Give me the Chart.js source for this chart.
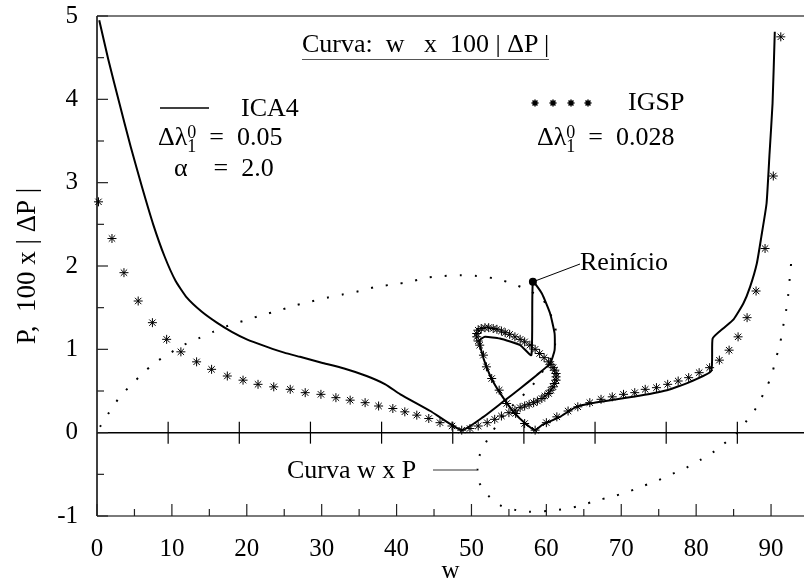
<!DOCTYPE html>
<html>
<head>
<meta charset="utf-8">
<script src="https://cdn.jsdelivr.net/npm/chart.js@4.4.1/dist/chart.umd.min.js"></script>
<style>
    html, body { margin: 0; padding: 0; background: #fff; }
    #wrap { position: relative; width: 804px; height: 581px; }
    #chart { position: absolute; left: 0; top: 0; }
    .lbl {
        position: absolute;
        font-family: 'Liberation Serif', 'Times New Roman', serif;
        font-size: 26px;
        line-height: 1;
        color: #000;
        white-space: pre;
    }
    .title { border-bottom: 1.5px solid #555; padding-bottom: 2px; }
    .ix { display: inline-block; vertical-align: middle; line-height: 0.8; font-size: 18px; text-align: left; }
    .ix span { display: block; }
</style>
</head>
<body>
<div id="wrap">
    <canvas id="chart" width="804" height="581"></canvas>
    <div class="lbl title" style="left:302px; top:31px;">Curva:  w   x  100 | ΔP |</div>
    <div class="lbl" style="left:241px; top:95px;">ICA4</div>
    <div class="lbl" style="left:158px; top:124px;">Δλ<span class="ix"><span>0</span><span>1</span></span>  =  0.05</div>
    <div class="lbl" style="left:174px; top:155px;">α    =  2.0</div>
    <div class="lbl" style="left:628px; top:89px;">IGSP</div>
    <div class="lbl" style="left:537px; top:124px;">Δλ<span class="ix"><span>0</span><span>1</span></span>  =  0.028</div>
    <div class="lbl" style="left:580px; top:249px;">Reinício</div>
    <div class="lbl" style="left:287px; top:457px;">Curva w x P</div>
</div>
<script>
// ICA4 (solid line), read along the path in drawing order
const ica4W = [0.3, 1.5, 3.0, 4.5, 6.0, 7.5, 9.0, 10.5, 12.0, 14.0, 16.0, 18.0, 20.0, 22.7, 25.0, 27.1, 30.0, 33.0, 36.0, 38.5, 40.5, 44.5, 48.7,
    51.6, 54.2, 56.5, 58.7, 60.5, 61.1, 61.1, 60.5, 59.4, 58.2,
    58.0, 56.5, 53.8, 51.8, 51.1, 51.3, 52.0, 52.9, 54.0, 55.6, 57.2, 58.5,
    59.4, 61.8, 64.0, 67.2, 71.6, 76.1, 79.2, 82.0, 82.2, 83.6, 85.0, 86.3, 87.2, 88.1, 88.7, 89.4, 89.8, 90.2, 90.5];
const ica4P = [4.95, 4.48, 3.95, 3.43, 2.95, 2.50, 2.12, 1.82, 1.62, 1.45, 1.32, 1.21, 1.12, 1.03, 0.96, 0.91, 0.84, 0.77, 0.68, 0.58, 0.46, 0.26, 0.03,
    0.19, 0.37, 0.53, 0.69, 0.83, 0.99, 1.19, 1.43, 1.67, 1.81,
    0.93, 1.05, 1.13, 1.15, 1.11, 0.99, 0.79, 0.61, 0.45, 0.25, 0.11, 0.03,
    0.09, 0.19, 0.31, 0.37, 0.43, 0.51, 0.61, 0.74, 1.13, 1.25, 1.36, 1.55, 1.75, 2.03, 2.35, 2.75, 3.35, 3.95, 4.81];

// IGSP (asterisks)
const igspW = [0.2, 2.0, 3.6, 5.5, 7.4, 9.3, 11.2, 13.3, 15.3, 17.4, 19.5, 21.5, 23.6, 25.8, 27.8, 29.9, 31.9, 33.8, 35.8, 37.6, 39.5,
    41.1, 42.7, 44.3, 45.8, 47.4, 48.7, 49.8, 50.9, 52.1, 53.1, 54.0, 55.0, 55.8, 56.5, 57.1, 57.7, 58.3, 58.8, 59.4, 59.8, 60.3,
    60.6, 60.9, 61.1, 61.3, 61.3, 61.3, 61.1, 60.9, 60.6, 60.3, 59.7, 59.1, 58.5, 57.8, 57.1, 56.5, 55.8, 55.1, 54.5, 54.0, 53.4,
    52.9, 52.3, 51.8, 51.3, 50.9, 50.7, 50.7, 50.9, 51.1, 51.6, 52.0, 52.7, 53.7, 54.7, 55.9, 57.1, 58.5,
    60.0, 61.4, 62.9, 64.2, 65.8, 67.3, 68.8, 70.3, 71.8, 73.2, 74.7, 76.2, 77.6, 79.0, 80.4, 81.8, 83.1, 84.4, 85.6, 86.8, 88.0,
    89.2, 90.3, 91.3];
const igspP = [2.77, 2.33, 1.92, 1.58, 1.32, 1.12, 0.97, 0.85, 0.76, 0.68, 0.63, 0.58, 0.55, 0.52, 0.48, 0.46, 0.42, 0.39, 0.36, 0.32, 0.29,
    0.25, 0.21, 0.17, 0.12, 0.08, 0.03, 0.05, 0.08, 0.12, 0.16, 0.20, 0.24, 0.27, 0.30, 0.32, 0.34, 0.36, 0.38, 0.41, 0.44, 0.47,
    0.51, 0.55, 0.59, 0.63, 0.67, 0.71, 0.75, 0.78, 0.82, 0.85, 0.90, 0.95, 1.00, 1.05, 1.09, 1.12, 1.15, 1.18, 1.20, 1.22, 1.24,
    1.25, 1.26, 1.26, 1.25, 1.23, 1.19, 1.15, 1.10, 1.05, 0.93, 0.79, 0.65, 0.51, 0.35, 0.23, 0.11, 0.03,
    0.12, 0.19, 0.26, 0.31, 0.36, 0.40, 0.43, 0.46, 0.48, 0.52, 0.54, 0.58, 0.62, 0.66, 0.72, 0.78, 0.87, 0.99, 1.15, 1.38, 1.70,
    2.21, 3.08, 4.75];

// Curva w x P (dotted)
const curveW = [0.4, 1.6, 2.9, 4.4, 6.0, 7.6, 9.5, 11.5, 13.5, 15.5, 17.7, 19.9, 22.0, 24.1, 26.2, 28.4, 30.7, 32.9, 35.1, 37.3, 39.6,
    41.8, 44.0, 46.2, 48.5, 50.7, 53.1, 55.4, 57.3, 59.4, 60.5, 61.2, 61.2, 60.6, 59.4, 57.8, 56.2, 54.7, 53.3, 52.1, 51.1, 50.8,
    51.0, 52.2, 54.0, 56.0, 57.8, 60.0, 62.1, 64.4, 66.5, 68.6, 70.6, 72.6, 74.7, 76.7, 78.7, 80.7, 82.5, 83.6, 85.4, 86.8, 88.1,
    89.1, 90.0, 90.6, 91.2, 91.6, 92.0, 92.3, 92.5, 92.7];
const curveP = [0.07, 0.24, 0.41, 0.56, 0.70, 0.83, 0.94, 1.05, 1.13, 1.21, 1.29, 1.35, 1.41, 1.46, 1.52, 1.57, 1.62, 1.66, 1.70, 1.75, 1.78,
    1.81, 1.86, 1.88, 1.89, 1.88, 1.85, 1.79, 1.72, 1.61, 1.43, 1.26, 1.08, 0.90, 0.72, 0.53, 0.39, 0.25, 0.08, -0.09, -0.27, -0.43,
    -0.59, -0.75, -0.88, -0.93, -0.95, -0.94, -0.92, -0.88, -0.82, -0.77, -0.72, -0.65, -0.58, -0.50, -0.42, -0.32, -0.22, -0.14, -0.01, 0.15, 0.31,
    0.49, 0.67, 0.87, 1.07, 1.27, 1.46, 1.66, 1.86, 2.05];

const restartW = [58.2];
const restartP = [1.81];

const xTicks = [0, 10, 20, 30, 40, 50, 60, 70, 80, 90];
const yTicks = [-1, 0, 1, 2, 3, 4, 5];
const zeroLineTicks = [9.5, 19, 28.5, 38, 47.5, 57, 66.5, 76, 85.5];

const SERIF = "'Liberation Serif', 'Times New Roman', serif";

const pairs = (xs, ys) => xs.map((x, i) => ({ x, y: ys[i] }));

function segment(ctx, x1, y1, x2, y2) {
    ctx.beginPath();
    ctx.moveTo(x1, y1);
    ctx.lineTo(x2, y2);
    ctx.stroke();
}

// Axis frame: gray top/bottom borders, black left axis and zero line, inward ticks.
const framePlugin = {
    id: 'frame',
    beforeDatasetsDraw(chart) {
        const { ctx, chartArea: a, scales: { x, y } } = chart;
        const y0 = y.getPixelForValue(0);
        ctx.save();
        ctx.lineCap = 'butt';

        ctx.strokeStyle = '#7a7a7a';
        ctx.lineWidth = 2;
        segment(ctx, a.left, a.top, a.right, a.top);
        segment(ctx, a.left, a.bottom, a.right, a.bottom);

        ctx.strokeStyle = '#000';
        ctx.lineWidth = 1.5;
        segment(ctx, a.left, y0, a.right, y0);
        segment(ctx, a.left, a.top, a.left, a.bottom);

        ctx.lineWidth = 1.2;
        ctx.strokeStyle = '#222';
        yTicks.forEach((v) => {
            const py = y.getPixelForValue(v);
            segment(ctx, a.left, py, a.left + 11, py);
            if (v + 0.5 < y.max) {
                const ph = y.getPixelForValue(v + 0.5);
                segment(ctx, a.left, ph, a.left + 7, ph);
            }
        });
        xTicks.forEach((v) => {
            const px = x.getPixelForValue(v);
            segment(ctx, px, a.bottom, px, a.bottom - 12);
            if (v + 5 < x.max) {
                const ph = x.getPixelForValue(v + 5);
                segment(ctx, ph, a.bottom, ph, a.bottom - 7);
            }
        });
        ctx.strokeStyle = '#000';
        zeroLineTicks.forEach((v) => {
            const px = x.getPixelForValue(v);
            segment(ctx, px, y0 - 11, px, y0 + 11);
        });
        ctx.restore();
    },
    afterDraw(chart) {
        const { ctx, scales: { x, y } } = chart;
        ctx.save();
        // legend sample line for ICA4
        ctx.strokeStyle = '#000';
        ctx.lineWidth = 1.5;
        segment(ctx, 160, 108, 209, 108);
        // legend asterisks for IGSP
        [535, 553, 571, 588].forEach((px) => {
            Chart.helpers.drawPoint(ctx, { pointStyle: 'star', radius: 3.5, borderWidth: 1 }, px, 103);
        });
        // callout to the restart point
        ctx.lineWidth = 1;
        segment(ctx, x.getPixelForValue(restartW[0]), y.getPixelForValue(restartP[0]), 580, 264);
        // pointer for the w x P curve label
        ctx.strokeStyle = '#777';
        ctx.lineWidth = 1.5;
        segment(ctx, 433, 470, 477, 470);
        ctx.restore();
    },
};

new Chart(document.getElementById('chart'), {
    type: 'scatter',
    data: {
        datasets: [
            {
                label: 'Curva w x P',
                data: pairs(curveW, curveP),
                showLine: true,
                borderColor: '#000',
                borderWidth: 2,
                borderDash: [2, 13],
                tension: 0.3,
                pointRadius: 0,
            },
            {
                label: 'ICA4',
                data: pairs(ica4W, ica4P),
                showLine: true,
                borderColor: '#000',
                borderWidth: 2,
                tension: 0.15,
                pointRadius: 0,
            },
            {
                label: 'IGSP',
                data: pairs(igspW, igspP),
                showLine: false,
                pointStyle: 'star',
                pointRadius: 4.5,
                borderWidth: 1,
                borderColor: '#000',
                backgroundColor: '#000',
                clip: false,
            },
            {
                label: 'Reinício',
                data: pairs(restartW, restartP),
                showLine: false,
                pointStyle: 'circle',
                pointRadius: 4,
                borderWidth: 0,
                backgroundColor: '#000',
            },
        ],
    },
    options: {
        responsive: false,
        animation: false,
        devicePixelRatio: 1,
        layout: { autoPadding: false, padding: { top: 16, right: 0, left: 0, bottom: 0 } },
        plugins: { legend: { display: false }, tooltip: { enabled: false } },
        scales: {
            x: {
                type: 'linear',
                min: 0,
                max: 94.4,
                afterBuildTicks: (scale) => { scale.ticks = xTicks.map((value) => ({ value })); },
                afterFit: (scale) => {
                    scale.height = 65;
                    scale.paddingLeft = 0;
                    scale.paddingRight = 0;
                },
                grid: { display: false, drawTicks: false },
                border: { display: false },
                ticks: { font: { family: SERIF, size: 25 }, color: '#000', padding: 18, maxRotation: 0 },
                title: { display: true, text: 'w', font: { family: SERIF, size: 25, lineHeight: 1 }, color: '#000', padding: { top: 0, bottom: -3 } },
            },
            y: {
                type: 'linear',
                min: -1,
                max: 5,
                afterBuildTicks: (scale) => { scale.ticks = yTicks.map((value) => ({ value })); },
                afterFit: (scale) => {
                    scale.width = 97;
                    scale.paddingTop = 0;
                    scale.paddingBottom = 0;
                },
                grid: { display: false, drawTicks: false },
                border: { display: false },
                ticks: { font: { family: SERIF, size: 25 }, color: '#000', padding: 19 },
                title: { display: true, text: 'P,  100 x | ΔP |', font: { family: SERIF, size: 27, lineHeight: 1 }, color: '#000', padding: { top: 14, bottom: 0 } },
            },
        },
    },
    plugins: [framePlugin],
});
</script>
</body>
</html>
